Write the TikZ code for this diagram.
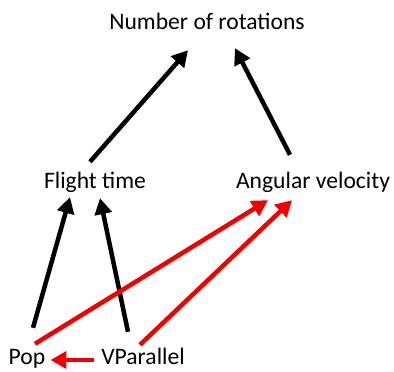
\documentclass[tikz,border=0pt]{standalone}
\usepackage{fontspec}
\setmainfont{Carlito}
\usetikzlibrary{arrows.meta}

\begin{document}
\begin{tikzpicture}[x=1pt, y=-1pt, >={Triangle[length=16pt, width=17pt]},
  lbl/.style={anchor=base, inner sep=0pt, text height=16pt, text depth=5pt,
              font=\fontsize{23.6}{27}\selectfont},
  blk/.style={->, line width=4.5pt, black},
  red/.style={->, line width=4.5pt, red!95!black}]
  \useasboundingbox (0,0) rectangle (394,372);

  \node[lbl] (num) at (207,29) {Number of rotations};
  \node[lbl] (flight) at (95,188) {Flight time};
  \node[lbl] (ang) at (313,188) {Angular velocity};
  \node[lbl] (pop) at (27,364) {Pop};
  \node[lbl] (vpar) at (143,364) {VParallel};

  \draw[blk] ([shift={(-5,-10)}]flight.north) -- ([shift={(-19,16)}]num.south);
  \draw[blk] ([shift={(-23,-17)}]ang.north) -- ([shift={(28,14)}]num.south);
  \draw[blk] ([shift={(6,-20)}]pop.north) -- ([shift={(-25,4)}]flight.south);
  \draw[blk] ([shift={(-15,-16)}]vpar.north) -- ([shift={(5,5)}]flight.south);

  \draw[red] ([shift={(8,-4)}]pop.north) -- ([shift={(-45,7)}]ang.south);
  \draw[red] ([shift={(-3,-3)}]vpar.north) -- ([shift={(-21,7)}]ang.south);
  \draw[red] ([shift={(-7,1.5)}]vpar.west) -- ([shift={(5,1.5)}]pop.east);
\end{tikzpicture}
\end{document}
